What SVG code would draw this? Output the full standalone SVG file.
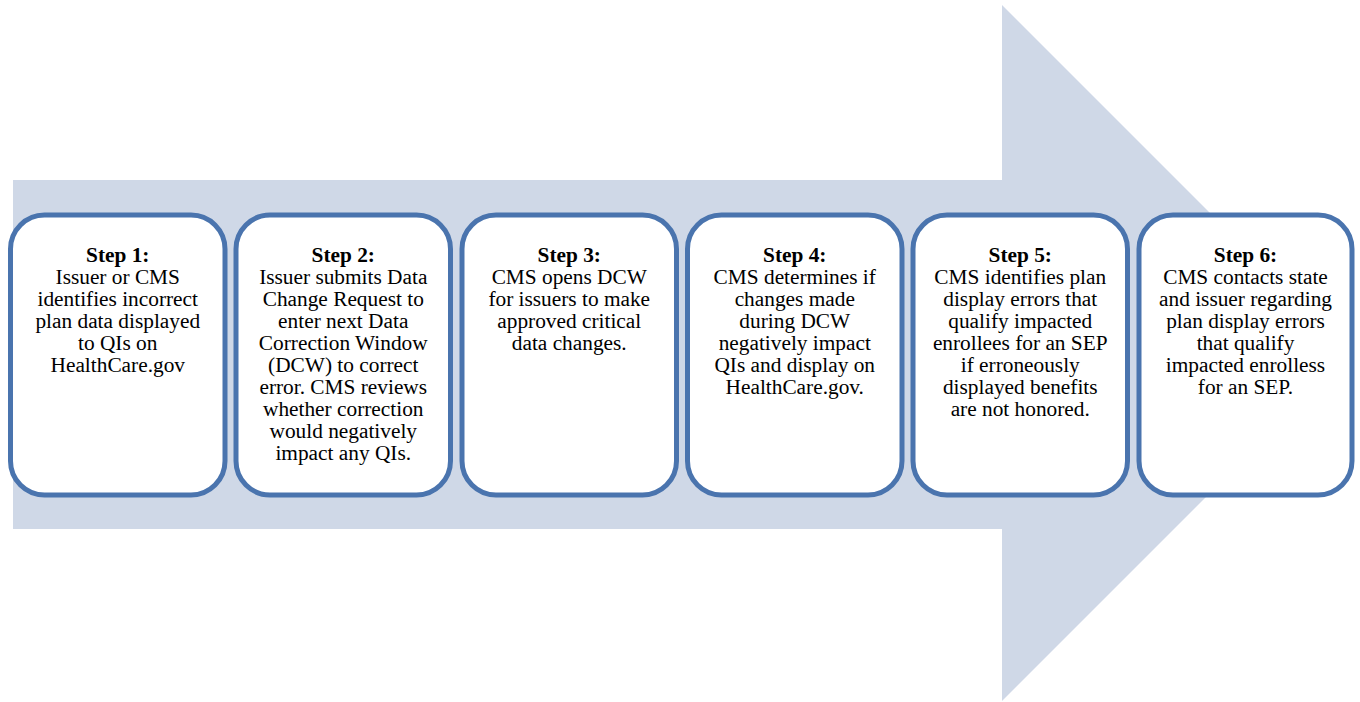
<svg xmlns="http://www.w3.org/2000/svg" width="1360" height="702" viewBox="0 0 1360 702">
<style>
.box{fill:#ffffff;stroke:#4a74ae;stroke-width:5}
.t{font-family:"Liberation Serif","Times New Roman",Times,serif;font-size:21.33px;fill:#000;text-anchor:middle}
.h{font-weight:bold}
</style>
<rect width="1360" height="702" fill="#ffffff"/>
<g id="arrow">
<polygon points="13,180 1002,180 1002,5 1350,353 1002,701 1002,529 13,529" fill="#cfd8e7"/>
</g>
<g id="connectors"></g>
<g id="step1">
<rect class="box" x="10.5" y="215" width="214.5" height="280" rx="34"/>
<text class="t" x="117.75" y="262"><tspan class="h">Step 1:</tspan><tspan x="117.75" dy="22">Issuer or CMS</tspan><tspan x="117.75" dy="22">identifies incorrect</tspan><tspan x="117.75" dy="22">plan data displayed</tspan><tspan x="117.75" dy="22">to QIs on</tspan><tspan x="117.75" dy="22">HealthCare.gov</tspan></text>
</g>
<g id="step2">
<rect class="box" x="236" y="215" width="214.5" height="280" rx="34"/>
<text class="t" x="343.25" y="262"><tspan class="h">Step 2:</tspan><tspan x="343.25" dy="22">Issuer submits Data</tspan><tspan x="343.25" dy="22">Change Request to</tspan><tspan x="343.25" dy="22">enter next Data</tspan><tspan x="343.25" dy="22">Correction Window</tspan><tspan x="343.25" dy="22">(DCW) to correct</tspan><tspan x="343.25" dy="22">error. CMS reviews</tspan><tspan x="343.25" dy="22">whether correction</tspan><tspan x="343.25" dy="22">would negatively</tspan><tspan x="343.25" dy="22">impact any QIs.</tspan></text>
</g>
<g id="step3">
<rect class="box" x="462" y="215" width="214.5" height="280" rx="34"/>
<text class="t" x="569.25" y="262"><tspan class="h">Step 3:</tspan><tspan x="569.25" dy="22">CMS opens DCW</tspan><tspan x="569.25" dy="22">for issuers to make</tspan><tspan x="569.25" dy="22">approved critical</tspan><tspan x="569.25" dy="22">data changes.</tspan></text>
</g>
<g id="step4">
<rect class="box" x="687.5" y="215" width="214.5" height="280" rx="34"/>
<text class="t" x="794.75" y="262"><tspan class="h">Step 4:</tspan><tspan x="794.75" dy="22">CMS determines if</tspan><tspan x="794.75" dy="22">changes made</tspan><tspan x="794.75" dy="22">during DCW</tspan><tspan x="794.75" dy="22">negatively impact</tspan><tspan x="794.75" dy="22">QIs and display on</tspan><tspan x="794.75" dy="22">HealthCare.gov.</tspan></text>
</g>
<g id="step5">
<rect class="box" x="913" y="215" width="214.5" height="280" rx="34"/>
<text class="t" x="1020.25" y="262"><tspan class="h">Step 5:</tspan><tspan x="1020.25" dy="22">CMS identifies plan</tspan><tspan x="1020.25" dy="22">display errors that</tspan><tspan x="1020.25" dy="22">qualify impacted</tspan><tspan x="1020.25" dy="22">enrollees for an SEP</tspan><tspan x="1020.25" dy="22">if erroneously</tspan><tspan x="1020.25" dy="22">displayed benefits</tspan><tspan x="1020.25" dy="22">are not honored.</tspan></text>
</g>
<g id="step6">
<rect class="box" x="1139" y="215" width="213" height="280" rx="34"/>
<text class="t" x="1245.5" y="262"><tspan class="h">Step 6:</tspan><tspan x="1245.5" dy="22">CMS contacts state</tspan><tspan x="1245.5" dy="22">and issuer regarding</tspan><tspan x="1245.5" dy="22">plan display errors</tspan><tspan x="1245.5" dy="22">that qualify</tspan><tspan x="1245.5" dy="22">impacted enrolless</tspan><tspan x="1245.5" dy="22">for an SEP.</tspan></text>
</g>
</svg>
